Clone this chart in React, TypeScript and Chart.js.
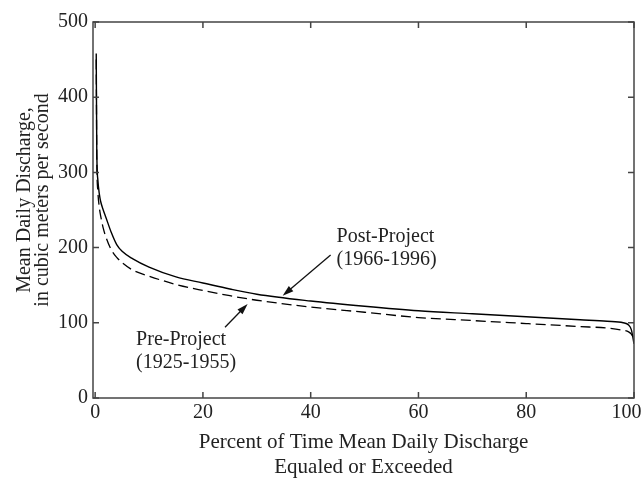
import React, { useEffect, useRef } from 'react';
import { Chart, registerables } from 'chart.js';

Chart.register(...registerables);

// Flow-duration data (percent of time equaled or exceeded -> discharge, m3/s)
const percentExceeded = [0.2, 0.3, 0.5, 0.8, 1, 1.5, 2, 3, 4, 5, 7, 10, 15, 20, 25, 30, 40, 50, 60, 70, 80, 90, 95, 98, 99, 99.5, 100];
const postProject = [458, 330, 290, 270, 262, 250, 240, 220, 204, 195, 185, 174, 161, 153, 145, 138, 129, 122, 116, 112, 108, 104, 102, 100, 97, 91, 72];
const preProject = [450, 320, 275, 252, 243, 226, 214, 197, 187, 180, 170, 162, 151, 143, 136, 130, 121, 114, 107, 103, 99, 95, 93, 90, 88, 85, 79];

const xTickValues = [0, 20, 40, 60, 80, 100];
const yTickValues = [0, 100, 200, 300, 400, 500];

const yTitle = ['Mean Daily Discharge,', 'in cubic meters per second'];
const xTitle = ['Percent of Time Mean Daily Discharge', 'Equaled or Exceeded'];

const postLabel = ['Post-Project', '(1966-1996)'];
const preLabel = ['Pre-Project', '(1925-1955)'];

// annotation anchors in data coordinates
const postText = { x: 44.8, y: 215 };
const postArrow = { fromX: 43.7, fromY: 190, toX: 34.8, toY: 136 };
const preText = { x: 7.6, y: 78 };
const preArrow = { fromX: 24.1, fromY: 94, toX: 28.3, toY: 125 };

const FONT = "'Liberation Serif', 'Times New Roman', Times, serif";
const TEXT_COLOR = '#222';
const NB = '\u00A0';

const framePlugin = {
  id: 'frameAndNotes',
  afterDraw(chart: any) {
    const { ctx, chartArea: a, scales } = chart;
    const x = scales.x;
    const y = scales.y;
    ctx.save();
    ctx.strokeStyle = '#444';
    ctx.lineWidth = 1.5;
    ctx.strokeRect(a.left, a.top, a.right - a.left, a.bottom - a.top);
    const tl = 6;
    ctx.beginPath();
    xTickValues.forEach((v) => {
      const px = x.getPixelForValue(v);
      ctx.moveTo(px, a.bottom);
      ctx.lineTo(px, a.bottom - tl);
      ctx.moveTo(px, a.top);
      ctx.lineTo(px, a.top + tl);
    });
    yTickValues.forEach((v) => {
      const py = y.getPixelForValue(v);
      ctx.moveTo(a.left, py);
      ctx.lineTo(a.left + tl, py);
      ctx.moveTo(a.right, py);
      ctx.lineTo(a.right - tl, py);
    });
    ctx.stroke();

    // annotations
    ctx.fillStyle = TEXT_COLOR;
    ctx.font = `20px ${FONT}`;
    ctx.textAlign = 'left';
    ctx.textBaseline = 'middle';
    const drawLines = (lines: string[], p: { x: number; y: number }) => {
      const px = x.getPixelForValue(p.x);
      const py = y.getPixelForValue(p.y);
      lines.forEach((s, i) => ctx.fillText(s, px, py + i * 23));
    };
    drawLines(postLabel, postText);
    drawLines(preLabel, preText);

    const drawArrow = (ar: { fromX: number; fromY: number; toX: number; toY: number }) => {
      const x1 = x.getPixelForValue(ar.fromX);
      const y1 = y.getPixelForValue(ar.fromY);
      const x2 = x.getPixelForValue(ar.toX);
      const y2 = y.getPixelForValue(ar.toY);
      const ang = Math.atan2(y2 - y1, x2 - x1);
      const hl = 11;
      const hw = 3.5;
      ctx.strokeStyle = '#111';
      ctx.lineWidth = 1.3;
      ctx.beginPath();
      ctx.moveTo(x1, y1);
      ctx.lineTo(x2 - Math.cos(ang) * hl * 0.8, y2 - Math.sin(ang) * hl * 0.8);
      ctx.stroke();
      ctx.fillStyle = '#111';
      ctx.beginPath();
      ctx.moveTo(x2, y2);
      ctx.lineTo(x2 - Math.cos(ang) * hl - Math.sin(ang) * hw, y2 - Math.sin(ang) * hl + Math.cos(ang) * hw);
      ctx.lineTo(x2 - Math.cos(ang) * hl + Math.sin(ang) * hw, y2 - Math.sin(ang) * hl - Math.cos(ang) * hw);
      ctx.closePath();
      ctx.fill();
    };
    drawArrow(postArrow);
    drawArrow(preArrow);
    ctx.restore();
  },
};

export default function App() {
  const canvasRef = useRef<HTMLCanvasElement | null>(null);

  useEffect(() => {
    if (!canvasRef.current) return;
    const chart = new Chart(canvasRef.current, {
      type: 'line',
      data: {
        datasets: [
          {
            label: 'Post-Project (1966-1996)',
            data: percentExceeded.map((p, i) => ({ x: p, y: postProject[i] })),
            borderColor: '#000',
            borderWidth: 1.4,
            pointRadius: 0,
            cubicInterpolationMode: 'monotone',
            fill: false,
          },
          {
            label: 'Pre-Project (1925-1955)',
            data: percentExceeded.map((p, i) => ({ x: p, y: preProject[i] })),
            borderColor: '#000',
            borderWidth: 1.3,
            borderDash: [10, 5],
            pointRadius: 0,
            cubicInterpolationMode: 'monotone',
            fill: false,
          },
        ],
      },
      options: {
        animation: false,
        responsive: true,
        maintainAspectRatio: false,
        layout: { padding: { top: 22, right: 9, left: 0, bottom: 0 } },
        plugins: {
          legend: { display: false },
          tooltip: { enabled: false },
        },
        scales: {
          x: {
            type: 'linear',
            min: -0.4,
            max: 100,
            afterBuildTicks: (s: any) => {
              s.ticks = xTickValues.map((v) => ({ value: v }));
            },
            afterFit: (s: any) => {
              s.height = 82;
              s.paddingLeft = 0;
              s.paddingRight = 0;
            },
            grid: { display: false, drawTicks: false },
            border: { display: false },
            ticks: {
              color: TEXT_COLOR,
              font: { family: FONT, size: 20 },
              padding: 3,
              maxRotation: 0,
              callback: (v: any) => (v === 100 ? `100${NB}${NB}${NB}` : String(v)),
            },
            title: {
              display: true,
              text: xTitle,
              color: TEXT_COLOR,
              font: { family: FONT, size: 21, lineHeight: 1.18 },
              padding: { top: 0, bottom: 0 },
            },
          },
          y: {
            type: 'linear',
            min: 0,
            max: 500,
            afterBuildTicks: (s: any) => {
              s.ticks = yTickValues.map((v) => ({ value: v }));
            },
            afterFit: (s: any) => {
              s.width = 93;
              s.paddingTop = 0;
              s.paddingBottom = 0;
            },
            grid: { display: false, drawTicks: false },
            border: { display: false },
            ticks: {
              color: TEXT_COLOR,
              font: { family: FONT, size: 20 },
              padding: 5,
            },
            title: {
              display: true,
              text: yTitle.map((t) => `${NB}${NB}${NB}${NB}${t}`),
              color: TEXT_COLOR,
              font: { family: FONT, size: 20, lineHeight: 0.86 },
              padding: { top: 16.5, bottom: 0 },
            },
          },
        },
      },
      plugins: [framePlugin],
    });
    return () => chart.destroy();
  }, []);

  return (
    <div style={{ position: 'absolute', left: 0, top: 0, width: 643, height: 480, background: '#fff' }}>
      <canvas ref={canvasRef} />
    </div>
  );
}
